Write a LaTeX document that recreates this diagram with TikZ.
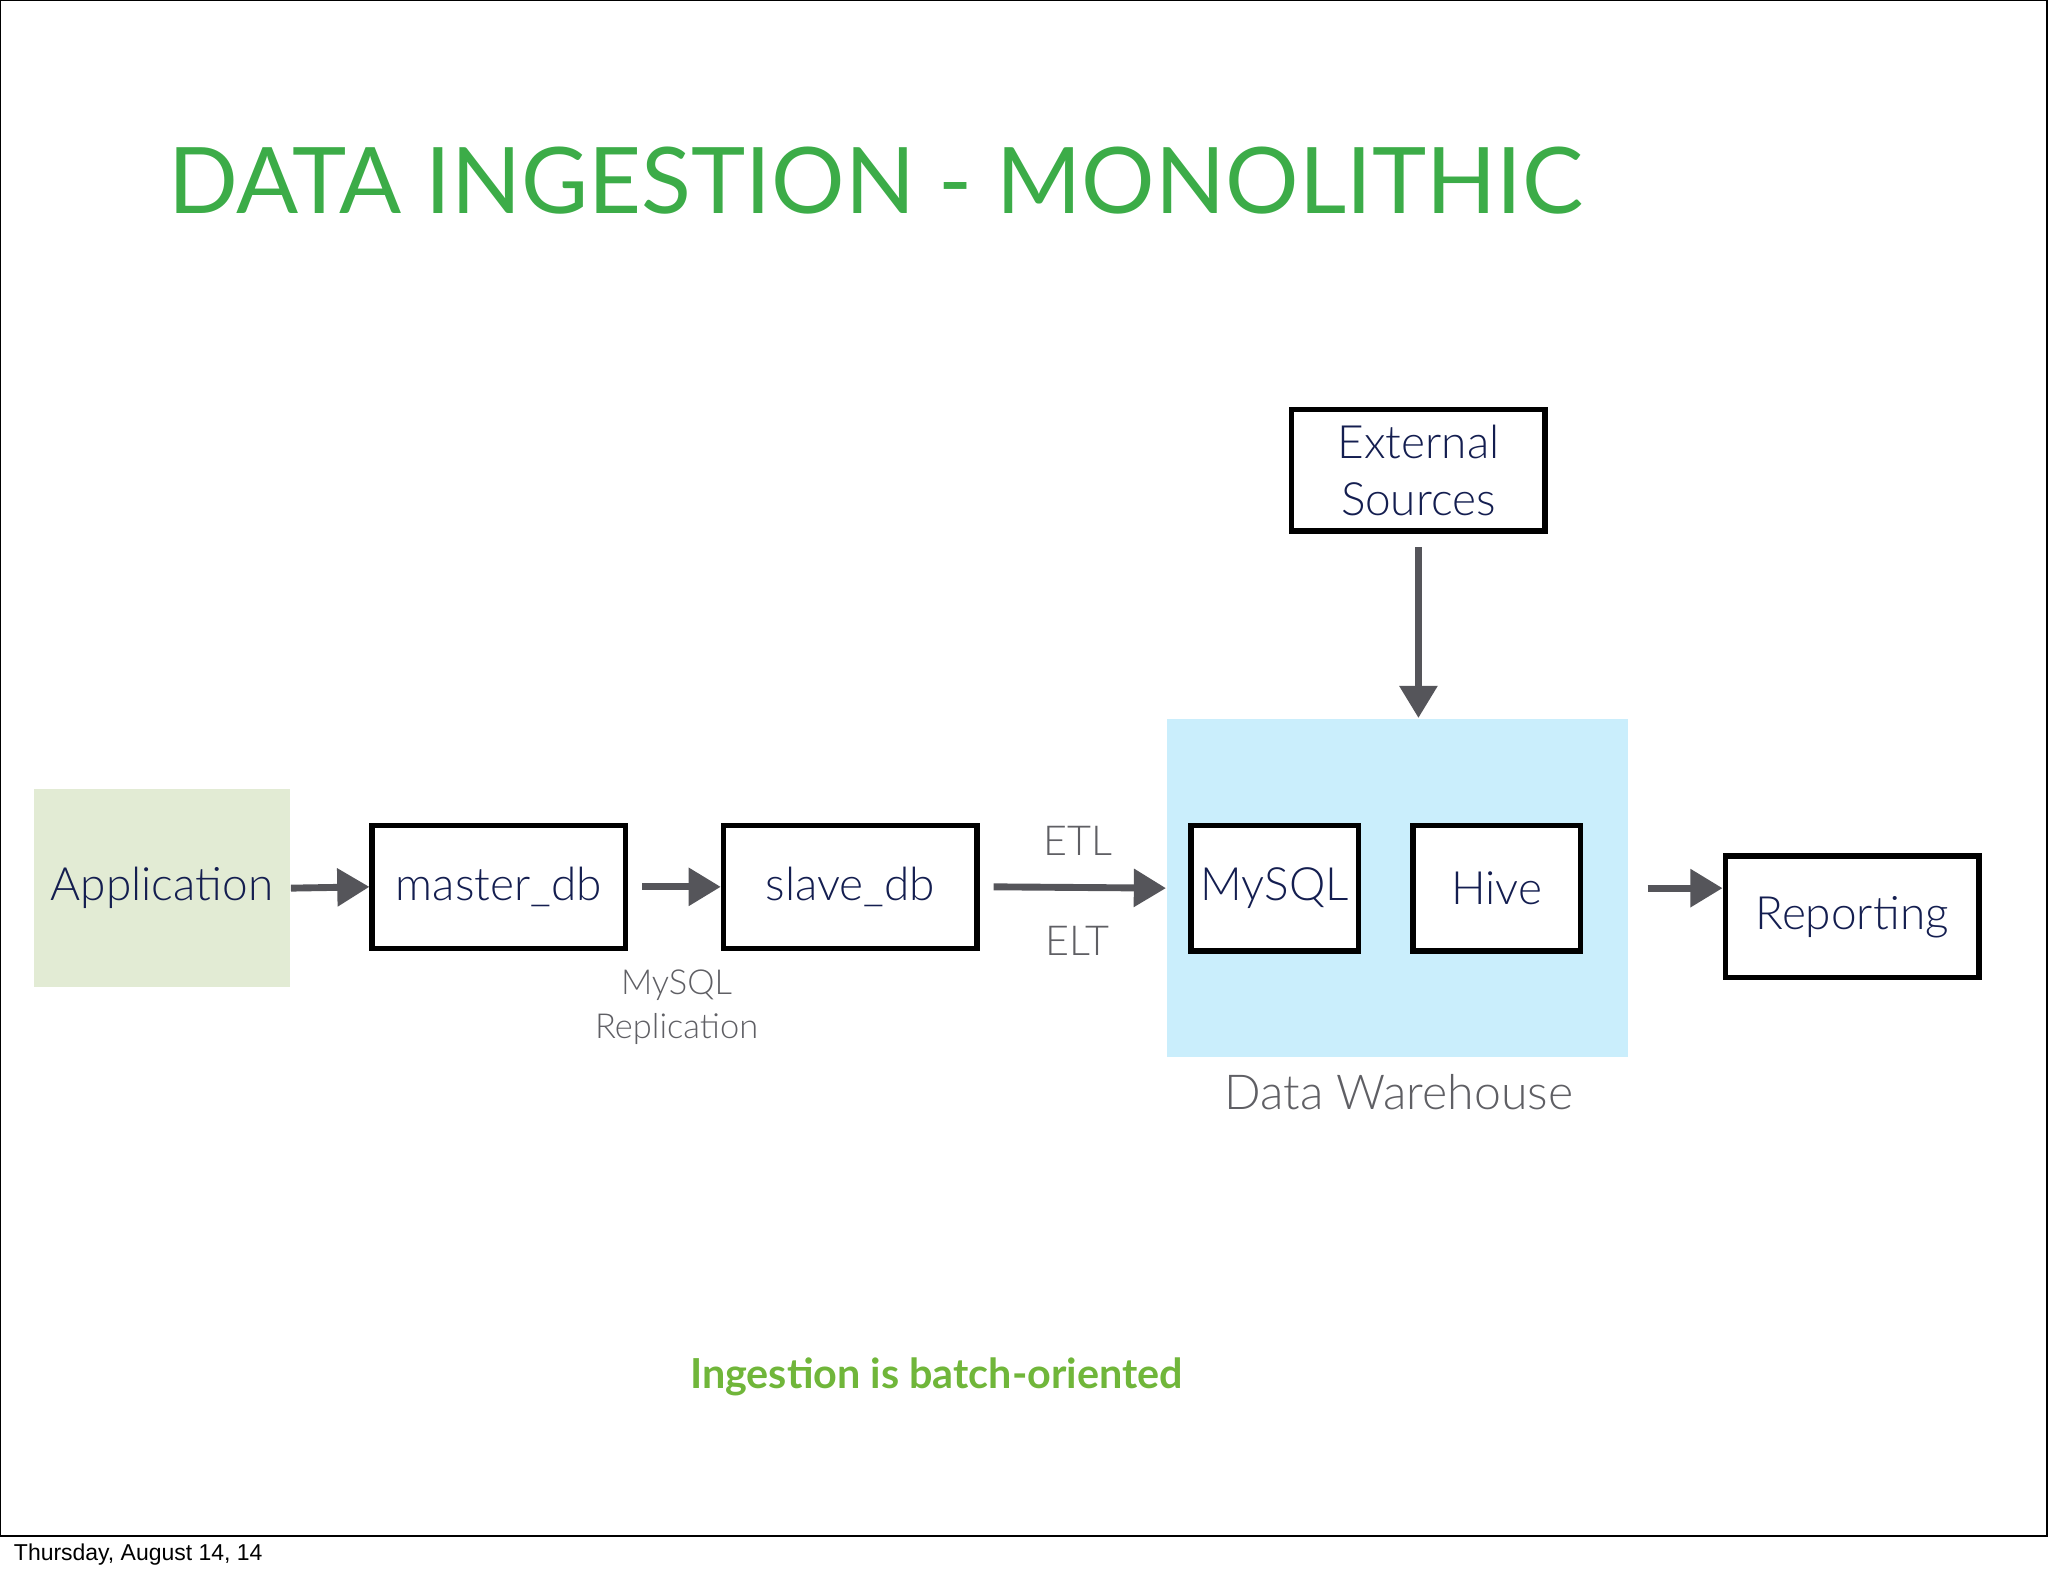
\documentclass[tikz,border=0pt]{standalone}
\usepackage{fontspec}
\setmainfont{Lato}[UprightFont=* Light, BoldFont=* Bold]
\newfontfamily\titlefont{Lato}
\newfontfamily\footfont{Liberation Sans}
\usetikzlibrary{arrows.meta}
\definecolor{titlegreen}{RGB}{60,172,72}
\definecolor{notegreen}{RGB}{112,182,58}
\definecolor{appfill}{RGB}{226,235,212}
\definecolor{dwfill}{RGB}{202,238,252}
\definecolor{navy}{RGB}{20,30,80}
\definecolor{labelgray}{RGB}{95,95,100}
\definecolor{arrowgray}{RGB}{85,85,90}
\tikzset{
  box/.style={draw, fill=white, line width=1.2pt, inner sep=0pt, text=navy, font=\fontsize{10}{12.5}\selectfont, align=center},
  lbl/.style={text=labelgray, align=center},
  flow/.style={draw=arrowgray, line width=1.5pt, -{Triangle[length=7pt,width=8pt]}}
}
\begin{document}
\begin{tikzpicture}[x=0.01cm,y=-0.01cm]
  \useasboundingbox (0,0) rectangle (1568,1207);
  \draw[line width=0.5pt] (0,0) rectangle (1567,1176);
  \node[anchor=west, inner sep=0pt, font=\footfont\fontsize{5}{6}\selectfont] (date) at (10,1190) {Thursday, August 14, 14};

  \node[anchor=west, inner sep=0pt, text=titlegreen, font=\titlefont\fontsize{20}{24}\selectfont] (title) at (128,138) {DATA INGESTION - MONOLITHIC};

  \node[fill=appfill, inner sep=0pt, text=navy, font=\fontsize{10}{12}\selectfont,
        minimum width=1.96cm, minimum height=1.52cm] (app) at (124,680) {Application};
  \node[box, minimum width=1.94cm, minimum height=0.94cm] (master) at (382,679) {master\_db};
  \node[box, minimum width=1.94cm, minimum height=0.94cm] (slave) at (651,679) {slave\_db};

  \node[fill=dwfill, minimum width=3.53cm, minimum height=2.59cm] (dw) at (1070,680) {};
  \node[box, minimum width=1.28cm, minimum height=0.96cm] (mysql) at (976,680) {MySQL};
  \node[box, minimum width=1.28cm, minimum height=0.96cm] (hive) at (1146,680) {Hive};
  \node[box, minimum width=1.94cm, minimum height=0.93cm] (ext) at (1086,360) {External\\Sources};
  \node[box, minimum width=1.94cm, minimum height=0.93cm] (report) at (1418,702) {Reporting};

  \node[lbl, font=\fontsize{9}{11}\selectfont] (etl) at (825,644) {ETL};
  \node[lbl, font=\fontsize{9}{11}\selectfont] (elt) at (825,720) {ELT};
  \node[lbl, font=\fontsize{7.5}{9.5}\selectfont] (repl) at (518,771) {MySQL\\Replication};
  \node[lbl, font=\fontsize{10.5}{12}\selectfont] (dwlabel) at (1071,836) {Data Warehouse};

  \node[text=notegreen, font=\bfseries\fontsize{9}{11}\selectfont] (note) at (717,1054) {Ingestion is batch-oriented};

  \draw[flow] (app.east) -- (master.west);
  \draw[flow] ([xshift=3pt]master.east) -- (slave.west);
  \draw[flow] ([xshift=3pt]slave.east) -- (dw.west);
  \draw[flow] ([yshift=-3pt]ext.south) -- (ext.south |- dw.north);
  \draw[flow] ([xshift=4pt]dw.east) coordinate (dwout) -- (dwout -| report.west);
\end{tikzpicture}
\end{document}
